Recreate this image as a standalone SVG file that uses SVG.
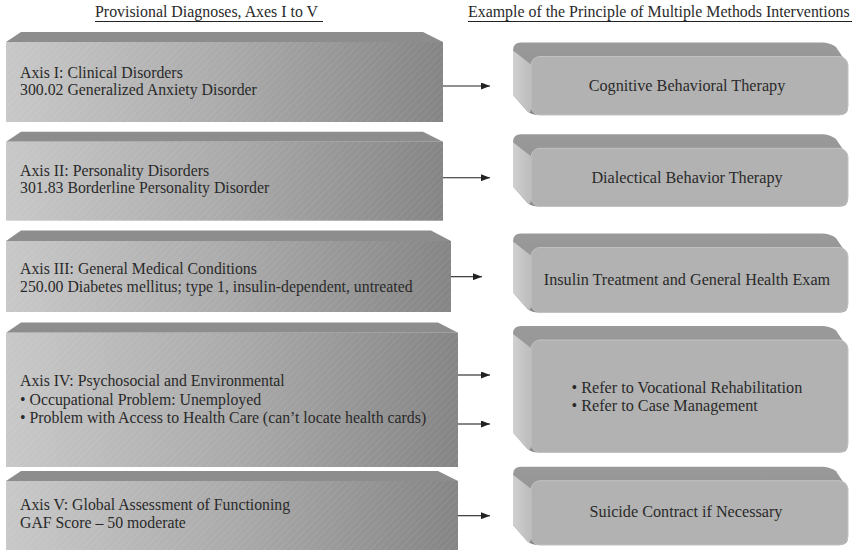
<svg xmlns="http://www.w3.org/2000/svg" width="856" height="550" viewBox="0 0 856 550">
<style>
text{font-family:"Liberation Serif","Times New Roman",serif;font-size:15.8px;fill:#2a2a2a}
.hd{font-size:15.9px}
.rt{font-size:16.2px}
.bev{fill:#8d8d8d}
.face{fill:url(#faceG)}
.hatch{fill:url(#hatch)}
.rtop{fill:url(#topG)}
.rleft{fill:url(#leftG)}
.rfront{fill:#b2b2b2;stroke:#c2c2c2;stroke-width:1}
.conn{stroke:#222;stroke-width:1.1;fill:none;marker-end:url(#ah)}
.ul{stroke:#222;stroke-width:1}
.c{text-anchor:middle}
</style>
<defs>
<linearGradient id="faceG" x1="0" y1="0" x2="1" y2="0">
<stop offset="0" stop-color="#c8c8c8"/>
<stop offset="0.5" stop-color="#ababab"/>
<stop offset="1" stop-color="#858585"/>
</linearGradient>
<linearGradient id="topG" x1="0" y1="0" x2="0" y2="1">
<stop offset="0" stop-color="#9a9a9a"/>
<stop offset="1" stop-color="#8a8a8a"/>
</linearGradient>
<linearGradient id="leftG" x1="0" y1="0" x2="1" y2="0">
<stop offset="0" stop-color="#d0d0d0"/>
<stop offset="1" stop-color="#bcbcbc"/>
</linearGradient>
<pattern id="hatch" width="5" height="5" patternUnits="userSpaceOnUse" patternTransform="rotate(45)">
<line x1="0" y1="0" x2="0" y2="5" stroke="#ffffff" stroke-opacity="0.25" stroke-width="0.6"/>
</pattern>
<marker id="ah" markerWidth="9" markerHeight="7" refX="9" refY="3.5" orient="auto" markerUnits="userSpaceOnUse">
<path d="M0,0 L9,3.5 L0,7 Z" fill="#222"/>
</marker>
</defs>
<rect width="856" height="550" fill="#ffffff"/>

<g id="headers">
<text class="hd" x="95" y="17">Provisional Diagnoses, Axes I to V</text>
<line class="ul" x1="95" y1="21.5" x2="323" y2="21.5"/>
<text class="hd" x="468" y="17">Example of the Principle of Multiple Methods Interventions</text>
<line class="ul" x1="468" y1="21.5" x2="852" y2="21.5"/>
</g>

<g id="axis1">
<polygon class="bev" points="6,42 21,32 423,32 443,42"/>
<rect class="face" x="6" y="42" width="437" height="80"/>
<rect class="hatch" x="6" y="42" width="437" height="80"/>
<text x="20" y="78">Axis I: Clinical Disorders</text>
<text x="20" y="95">300.02 Generalized Anxiety Disorder</text>
</g>

<g id="axis2">
<polygon class="bev" points="6,141.7 21,131.7 423,131.7 443,141.7"/>
<rect class="face" x="6" y="141.7" width="437" height="79"/>
<rect class="hatch" x="6" y="141.7" width="437" height="79"/>
<text x="20" y="176">Axis II: Personality Disorders</text>
<text x="20" y="193">301.83 Borderline Personality Disorder</text>
</g>

<g id="axis3">
<polygon class="bev" points="6,241 21,230.5 431,230.5 451,241"/>
<rect class="face" x="6" y="241" width="445" height="71"/>
<rect class="hatch" x="6" y="241" width="445" height="71"/>
<text x="20" y="273.5">Axis III: General Medical Conditions</text>
<text x="20" y="291.5">250.00 Diabetes mellitus; type 1, insulin-dependent, untreated</text>
</g>

<g id="axis4">
<polygon class="bev" points="6,332.7 21,322.5 438,322.5 458,332.7"/>
<rect class="face" x="6" y="332.7" width="452" height="134.3"/>
<rect class="hatch" x="6" y="332.7" width="452" height="134.3"/>
<text x="20" y="386">Axis IV: Psychosocial and Environmental</text>
<text x="20" y="404.5">• Occupational Problem: Unemployed</text>
<text x="20" y="423">• Problem with Access to Health Care (can’t locate health cards)</text>
</g>

<g id="axis5">
<polygon class="bev" points="6,481 21,471 438,471 458,481"/>
<rect class="face" x="6" y="481" width="452" height="69"/>
<rect class="hatch" x="6" y="481" width="452" height="69"/>
<text x="20" y="510">Axis V: Global Assessment of Functioning</text>
<text x="20" y="528">GAF Score – 50 moderate</text>
</g>

<g id="int1">
<path class="rtop" d="M521,42.5 L822,42.5 Q830,42.5 836,47 L848,65 L848,107 Q848,115 840,115 L539,115 Q531,115 527,111 L513,95 L513,50.5 Q513,42.5 521,42.5 Z"/>
<path class="rleft" d="M513,50.5 L531,64.5 L531,107 Q531,115 527,111 L513,95 Z"/>
<rect class="rfront" x="531" y="56.5" width="317" height="58.5" rx="9"/>
<text class="c rt" x="687" y="90.5">Cognitive Behavioral Therapy</text>
</g>

<g id="int2">
<path class="rtop" d="M521,134.3 L822,134.3 Q830,134.3 836,139 L848,157 L848,198.5 Q848,206.5 840,206.5 L539,206.5 Q531,206.5 527,202.5 L513,186.5 L513,142.3 Q513,134.3 521,134.3 Z"/>
<path class="rleft" d="M513,142.3 L531,156.3 L531,198.5 Q531,206.5 527,202.5 L513,186.5 Z"/>
<rect class="rfront" x="531" y="148.3" width="317" height="58.2" rx="9"/>
<text class="c rt" x="687" y="182.5">Dialectical Behavior Therapy</text>
</g>

<g id="int3">
<path class="rtop" d="M521,233.5 L822,233.5 Q830,233.5 836,238 L848,256 L848,304.5 Q848,312.5 840,312.5 L539,312.5 Q531,312.5 527,308.5 L513,292.5 L513,241.5 Q513,233.5 521,233.5 Z"/>
<path class="rleft" d="M513,241.5 L531,255.5 L531,304.5 Q531,312.5 527,308.5 L513,292.5 Z"/>
<rect class="rfront" x="531" y="247.5" width="317" height="65" rx="9"/>
<text class="c rt" x="687" y="284.5">Insulin Treatment and General Health Exam</text>
</g>

<g id="int4">
<path class="rtop" d="M521,326 L822,326 Q830,326 836,330.5 L848,348.5 L848,444.5 Q848,452.5 840,452.5 L539,452.5 Q531,452.5 527,448.5 L513,432.5 L513,334 Q513,326 521,326 Z"/>
<path class="rleft" d="M513,334 L531,348 L531,444.5 Q531,452.5 527,448.5 L513,432.5 Z"/>
<rect class="rfront" x="531" y="340" width="317" height="112.5" rx="9"/>
<text class="rt" x="571.5" y="393">• Refer to Vocational Rehabilitation</text>
<text class="rt" x="571.5" y="411">• Refer to Case Management</text>
</g>

<g id="int5">
<path class="rtop" d="M521,466.7 L822,466.7 Q830,466.7 836,471.2 L848,489.2 L848,537 Q848,545 840,545 L539,545 Q531,545 527,541 L513,525 L513,474.7 Q513,466.7 521,466.7 Z"/>
<path class="rleft" d="M513,474.7 L531,488.7 L531,537 Q531,545 527,541 L513,525 Z"/>
<rect class="rfront" x="531" y="480.7" width="317" height="64.3" rx="9"/>
<text class="c rt" x="686" y="517">Suicide Contract if Necessary</text>
</g>

<g id="connectors">
<line class="conn" x1="443" y1="86" x2="490" y2="86"/>
<line class="conn" x1="443" y1="177.7" x2="490" y2="177.7"/>
<line class="conn" x1="451" y1="276.7" x2="482" y2="276.7"/>
<line class="conn" x1="458" y1="375" x2="490" y2="375"/>
<line class="conn" x1="458" y1="424" x2="490" y2="424"/>
<line class="conn" x1="458" y1="515.7" x2="490" y2="515.7"/>
</g>
</svg>
